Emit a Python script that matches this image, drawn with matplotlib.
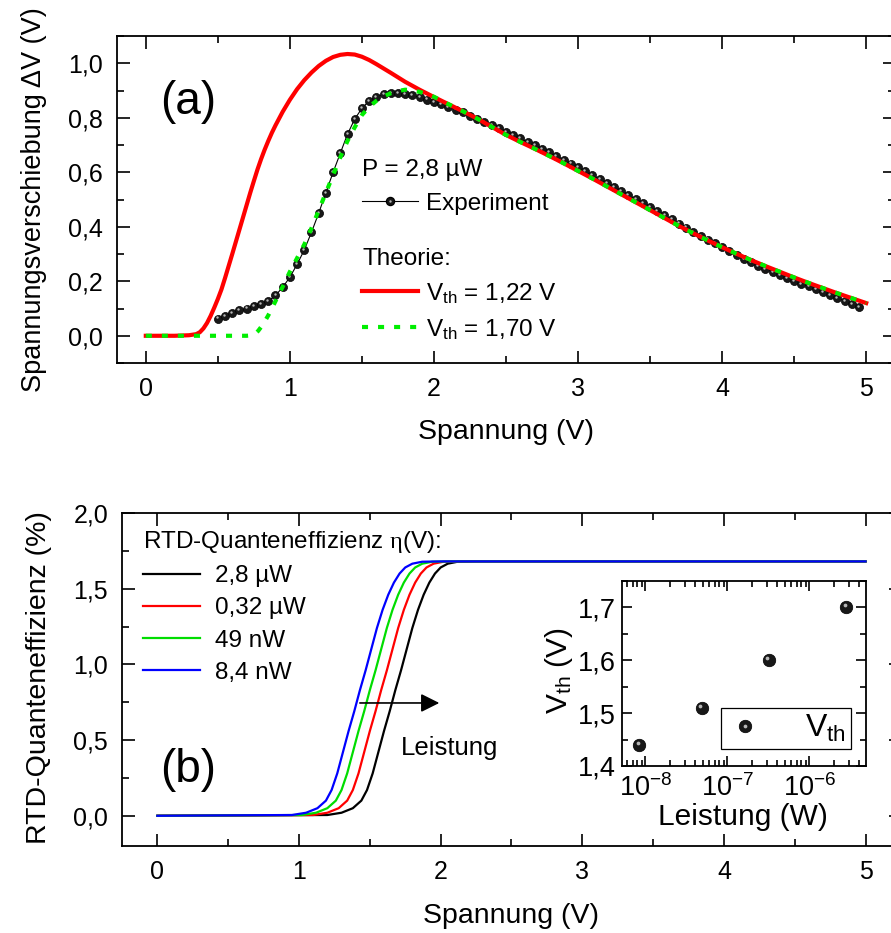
import numpy as np
import matplotlib
matplotlib.use('Agg')
import matplotlib.pyplot as plt
from matplotlib.lines import Line2D
from matplotlib.legend_handler import HandlerTuple
from matplotlib.ticker import MultipleLocator, FuncFormatter, LogLocator, NullFormatter
from matplotlib.transforms import ScaledTranslation

plt.rcParams['font.family'] = ['Liberation Sans', 'DejaVu Sans']
plt.rcParams['mathtext.fontset'] = 'custom'
plt.rcParams['mathtext.rm'] = 'Liberation Serif'
plt.rcParams['mathtext.it'] = 'Liberation Sans:italic'

# ---- data panel (a) ----
exp_v = np.arange(0.50, 4.951, 0.05)
exp_dv = [0.063, 0.072, 0.083, 0.093, 0.100, 0.108, 0.117, 0.127, 0.148, 0.178,
          0.215, 0.262, 0.315, 0.380, 0.450, 0.525, 0.600, 0.670, 0.740, 0.795,
          0.835, 0.862, 0.877, 0.886, 0.890, 0.891, 0.888, 0.882, 0.875, 0.867,
          0.858, 0.849, 0.840, 0.830, 0.820, 0.808, 0.797, 0.785, 0.773, 0.761,
          0.748, 0.736, 0.724, 0.711, 0.699, 0.686, 0.673, 0.660, 0.646, 0.632,
          0.618, 0.603, 0.589, 0.574, 0.560, 0.545, 0.531, 0.516, 0.501, 0.487,
          0.472, 0.457, 0.442, 0.427, 0.412, 0.397, 0.382, 0.367, 0.353, 0.339,
          0.325, 0.311, 0.297, 0.283, 0.270, 0.257, 0.245, 0.234, 0.223, 0.212,
          0.202, 0.191, 0.181, 0.171, 0.161, 0.150, 0.139, 0.128, 0.117, 0.106]

tail_v = [2.1, 2.2, 2.3, 2.4, 2.5, 2.6, 2.7, 2.8, 2.9, 3.0,
          3.1, 3.2, 3.3, 3.4, 3.5, 3.6, 3.7, 3.8, 3.9, 4.0,
          4.1, 4.2, 4.3, 4.4, 4.5, 4.6, 4.7, 4.8, 4.9, 5.0]
tail_dv = [0.850, 0.824, 0.797, 0.767, 0.737, 0.711, 0.686, 0.660, 0.633, 0.605,
           0.577, 0.548, 0.519, 0.490, 0.461, 0.432, 0.403, 0.376, 0.350, 0.325,
           0.301, 0.278, 0.256, 0.235, 0.214, 0.194, 0.175, 0.156, 0.138, 0.120]

red_v = [0.0, 0.1, 0.2, 0.3, 0.35, 0.375, 0.4, 0.425, 0.45, 0.475, 0.5, 0.525, 0.55,
         0.575, 0.6, 0.625, 0.65, 0.675, 0.7, 0.725, 0.75, 0.775, 0.8, 0.825, 0.85,
         0.875, 0.9, 0.95, 1.0, 1.05, 1.1, 1.15, 1.2, 1.25, 1.3, 1.35, 1.4, 1.45,
         1.5, 1.55, 1.6, 1.65, 1.7, 1.8, 1.9, 2.0] + tail_v
red_dv = [0, 0, 0, 0.002, 0.006, 0.013, 0.027, 0.047, 0.073, 0.103, 0.135, 0.170,
          0.212, 0.256, 0.300, 0.345, 0.390, 0.435, 0.480, 0.525, 0.568, 0.610,
          0.648, 0.683, 0.715, 0.745, 0.772, 0.822, 0.866, 0.905, 0.938, 0.966,
          0.990, 1.009, 1.023, 1.031, 1.034, 1.032, 1.024, 1.012, 0.997, 0.981,
          0.965, 0.932, 0.903, 0.876] + tail_dv

green_v = [0.0, 0.7, 0.74, 0.76, 0.78, 0.8, 0.825, 0.85, 0.875, 0.9, 0.95, 1.0, 1.05,
           1.1, 1.15, 1.2, 1.25, 1.3, 1.35, 1.4, 1.45, 1.5, 1.55, 1.6, 1.65, 1.7,
           1.75, 1.8, 1.85, 1.9, 1.95, 2.0] + tail_v
green_dv = [0, 0, 0.002, 0.008, 0.018, 0.032, 0.052, 0.075, 0.100, 0.127, 0.180,
            0.235, 0.285, 0.335, 0.395, 0.460, 0.525, 0.590, 0.655, 0.715, 0.765,
            0.810, 0.840, 0.862, 0.878, 0.890, 0.898, 0.903, 0.901, 0.895, 0.887,
            0.877] + tail_dv

# ---- data panel (b) ----
eta_levels = [0.0, 0.005, 0.02, 0.05, 0.10, 0.17, 0.28, 0.42, 0.56, 0.69, 0.83, 0.96,
              1.10, 1.24, 1.36, 1.46, 1.54, 1.60, 1.64, 1.665, 1.678, 1.68, 1.68]
v_28uW = [0.0, 1.20, 1.30, 1.38, 1.44, 1.48, 1.52, 1.56, 1.60, 1.64, 1.68, 1.72,
          1.76, 1.80, 1.84, 1.88, 1.92, 1.96, 2.00, 2.05, 2.12, 2.25, 5.0]
v_032uW = [0.0, 1.10, 1.20, 1.28, 1.34, 1.38, 1.42, 1.46, 1.50, 1.54, 1.58, 1.62,
           1.66, 1.70, 1.74, 1.78, 1.82, 1.86, 1.90, 1.95, 2.02, 2.15, 5.0]
v_49nW = [0.0, 1.02, 1.12, 1.20, 1.26, 1.30, 1.34, 1.38, 1.42, 1.46, 1.50, 1.54,
          1.58, 1.62, 1.66, 1.70, 1.74, 1.78, 1.82, 1.87, 1.94, 2.07, 5.0]
v_84nW = [0.0, 0.95, 1.05, 1.13, 1.19, 1.23, 1.27, 1.31, 1.35, 1.39, 1.43, 1.47,
          1.51, 1.55, 1.59, 1.63, 1.67, 1.71, 1.75, 1.80, 1.87, 2.00, 5.0]
curve_labels = ['2,8 µW', '0,32 µW', '49 nW', '8,4 nW']
curve_colors = ['#000000', '#ff0000', '#00dd00', '#0000ff']

# inset
power = [8.4e-9, 4.9e-8, 3.2e-7, 2.8e-6]
vth = [1.44, 1.51, 1.60, 1.70]

comma = FuncFormatter(lambda v, p: f'{v:.1f}'.replace('.', ','))
intfmt = FuncFormatter(lambda v, p: f'{v:.0f}')

fig = plt.figure(figsize=(8.91, 9.33), dpi=100)

TICK_FS = 18
LABEL_FS = 20.5
LEG_FS = 17.5


def style_axes(ax, fs=TICK_FS, major=9, minor=5):
    ax.tick_params(which='both', direction='in', top=True, right=True, width=1.2,
                   labelsize=fs, pad=10)
    ax.tick_params(which='major', length=major)
    ax.tick_params(which='minor', length=minor)
    for s in ax.spines.values():
        s.set_linewidth(1.3)


def spheres(ax, x, y, ms, z=3):
    ax.plot(x, y, 'o', ms=ms, mfc='#181818', mec='black', mew=0.5, ls='none', zorder=z)
    off = ScaledTranslation(-ms * 0.12 / 72, ms * 0.14 / 72, fig.dpi_scale_trans)
    ax.plot(x, y, 'o', ms=ms * 0.3, mfc='#b8b8b8', mew=0, ls='none', zorder=z + 0.1,
            transform=ax.transData + off)


# ---------------- panel (a) ----------------
ax1 = fig.add_axes([0.1313, 0.6109, 0.8732, 0.3505])
ax1.plot(exp_v, exp_dv, color='black', lw=0.8, zorder=2)
spheres(ax1, exp_v, exp_dv, 5.8, z=2.5)
ax1.plot(red_v, red_dv, color='#ff0000', lw=3, zorder=4)
ax1.plot(green_v, green_dv, color='#00ee00', lw=3, ls=(0, (1.45, 2.4)), zorder=5)

ax1.set_xlim(-0.2, 5.2)
ax1.set_ylim(-0.1, 1.1)
ax1.xaxis.set_major_locator(MultipleLocator(1))
ax1.xaxis.set_minor_locator(MultipleLocator(0.5))
ax1.yaxis.set_major_locator(MultipleLocator(0.2))
ax1.yaxis.set_minor_locator(MultipleLocator(0.1))
ax1.yaxis.set_major_formatter(comma)
ax1.xaxis.set_major_formatter(intfmt)
style_axes(ax1)
ax1.set_xlabel('Spannung (V)', fontsize=LABEL_FS)
ax1.set_ylabel('Spannungsverschiebung ΔV (V)', fontsize=19.5)
ax1.xaxis.set_label_coords(0.5, -0.17)
ax1.yaxis.set_label_coords(-0.09, 0.5)
ax1.text(0.092, 0.798, '(a)', transform=ax1.transAxes, fontsize=33,
         ha='center', va='center')

h_exp = (Line2D([], [], color='black', lw=0.8, marker='o', ms=5.8, mfc='#181818', mec='black'),
         Line2D([], [], ls='none', marker='o', ms=1.7, mfc='#b8b8b8', mew=0))
leg1 = ax1.legend([h_exp], ['Experiment'], title='P = 2,8 µW', loc='upper left',
                  bbox_to_anchor=(0.315, 0.625), frameon=False, fontsize=LEG_FS,
                  title_fontsize=LEG_FS, handlelength=2.3, handletextpad=0.35,
                  borderpad=0, borderaxespad=0, alignment='left',
                  handler_map={tuple: HandlerTuple(ndivide=1)})
ax1.add_artist(leg1)
h_red = Line2D([], [], color='#ff0000', lw=3)
h_green = Line2D([], [], color='#00ee00', lw=3, ls=(0, (1.45, 2.4)))
ax1.legend([h_red, h_green], ['V$_\\mathregular{th}$ = 1,22 V', 'V$_\\mathregular{th}$ = 1,70 V'],
           title='Theorie:', loc='upper left', bbox_to_anchor=(0.315, 0.352),
           frameon=False, fontsize=LEG_FS, title_fontsize=LEG_FS, handlelength=2.3,
           handletextpad=0.35, labelspacing=0.45, borderpad=0, borderaxespad=0,
           alignment='left')

# ---------------- panel (b) ----------------
ax2 = fig.add_axes([0.1369, 0.0932, 0.8743, 0.357])
for xs, lab, col in zip([v_28uW, v_032uW, v_49nW, v_84nW], curve_labels, curve_colors):
    ax2.plot(xs, eta_levels, color=col, lw=1.6, label=lab)
ax2.set_xlim(-0.25, 5.25)
ax2.set_ylim(-0.2, 2.0)
ax2.xaxis.set_major_locator(MultipleLocator(1))
ax2.xaxis.set_minor_locator(MultipleLocator(0.5))
ax2.yaxis.set_major_locator(MultipleLocator(0.5))
ax2.yaxis.set_minor_locator(MultipleLocator(0.25))
ax2.yaxis.set_major_formatter(comma)
ax2.xaxis.set_major_formatter(intfmt)
style_axes(ax2)
ax2.set_xlabel('Spannung (V)', fontsize=LABEL_FS)
ax2.set_ylabel('RTD-Quanteneffizienz (%)', fontsize=LABEL_FS)
ax2.xaxis.set_label_coords(0.5, -0.17)
ax2.yaxis.set_label_coords(-0.09, 0.505)
ax2.text(0.085, 0.228, '(b)', transform=ax2.transAxes, fontsize=33,
         ha='center', va='center')
ax2.annotate('', xy=(2.01, 0.745), xytext=(1.41, 0.745),
             arrowprops=dict(arrowstyle='-|>', lw=1.2, color='black', mutation_scale=28))
ax2.text(1.716, 0.446, 'Leistung', fontsize=18.5, ha='left', va='center')
ax2.legend(title='RTD-Quanteneffizienz $\\mathrm{\\eta}$(V):', loc='upper left',
           bbox_to_anchor=(0.027, 0.952), frameon=False, fontsize=LEG_FS,
           title_fontsize=LEG_FS, handlelength=2.35, handletextpad=0.6,
           labelspacing=0.42, borderpad=0, borderaxespad=0, alignment='left')

# ---------------- inset ----------------
ax3 = fig.add_axes([0.6978, 0.179, 0.2742, 0.1986])
spheres(ax3, power, vth, 9)
ax3.set_xscale('log')
ax3.set_xlim(5.15e-9, 4.9e-6)
ax3.set_ylim(1.4, 1.75)
ax3.yaxis.set_major_locator(MultipleLocator(0.1))
ax3.yaxis.set_minor_locator(MultipleLocator(0.05))
ax3.yaxis.set_major_formatter(comma)
ax3.xaxis.set_major_locator(LogLocator(base=10, numticks=10))
ax3.xaxis.set_minor_locator(LogLocator(base=10, subs=np.arange(2, 10), numticks=10))
ax3.xaxis.set_minor_formatter(NullFormatter())
ax3.xaxis.set_major_formatter(FuncFormatter(
    lambda v, p: '10$^{\\mathregular{%d}}$' % round(np.log10(v))))
style_axes(ax3, fs=19.5, major=7, minor=4)
ax3.tick_params(axis='y', pad=4)
ax3.tick_params(axis='x', pad=6)
ax3.set_xlabel('Leistung (W)', fontsize=21.5)
ax3.set_ylabel('V$_\\mathregular{th}$ (V)', fontsize=21.5)
ax3.xaxis.set_label_coords(0.497, -0.2)
ax3.yaxis.set_label_coords(-0.19, 0.513)
h_vth = (Line2D([], [], ls='none', marker='o', ms=9, mfc='#181818', mec='black', mew=0.5),
         Line2D([], [], ls='none', marker='o', ms=2.7, mfc='#b8b8b8', mew=0))
lg = ax3.legend([h_vth], ['V$_\\mathregular{th}$'], loc='lower right',
                bbox_to_anchor=(0.939, 0.092), fontsize=23, fancybox=False,
                edgecolor='black', framealpha=1, handlelength=1.2, handletextpad=1.3,
                borderpad=0.15, borderaxespad=0,
                handler_map={tuple: HandlerTuple(ndivide=1)})
lg.get_frame().set_linewidth(0.9)

fig.savefig('out.png', dpi=100)
